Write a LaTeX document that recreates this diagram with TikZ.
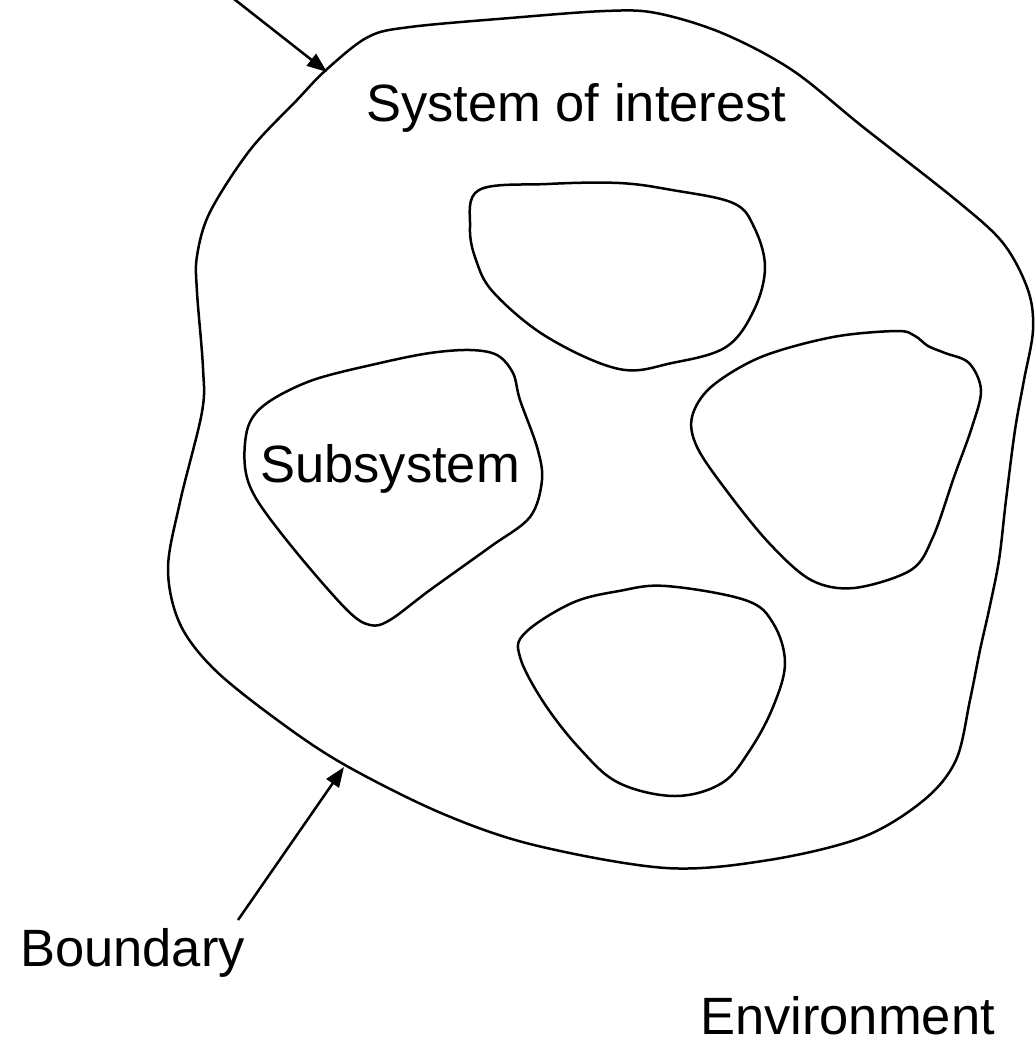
\documentclass[tikz,border=0pt]{standalone}
\usepackage{fontspec}
\setmainfont{Liberation Sans}
\usetikzlibrary{arrows.meta}
\begin{document}
\begin{tikzpicture}[x=1pt,y=-1pt,
  outline/.style={line width=2.5pt, line join=round},
  pointer/.style={line width=2.5pt, -{Triangle[length=20pt,width=15pt]}},
  caption/.style={inner sep=0pt, anchor=base west, font=\fontsize{52.5}{60}\selectfont}]
\useasboundingbox[fill=white] (0,0) rectangle (1035,1045);

% system boundary
\draw[outline] plot[smooth cycle, tension=0.55] coordinates {
  (326,70) (368,37) (410,27) (510,18) (605,11) (656,13) (722,33) (792,70)
  (863,127) (956,200) (1003,243) (1028,290) (1033,330) (1024,380) (1015,430)
  (1006,500) (999,560) (989,610) (980,650) (970,700) (956,760) (924,800)
  (863,837) (769,860) (666,868) (534,845) (441,813) (345,765) (280,722)
  (215,670) (180,624) (168,569) (180,502) (202,412) (203,368) (197,292)
  (197,256) (210,212) (250,150) (297,100)};

% upper subsystem
\draw[outline] plot[smooth cycle, tension=0.6] coordinates {
  (547,184) (619,183) (672,190) (733,203) (754,227) (765,267) (754,310)
  (726,347) (672,363) (619,369) (547,337) (494,293) (476,260) (470,227)
  (479,190)};

% right subsystem
\draw[outline] plot[smooth cycle, tension=0.55] coordinates {
  (833,337) (897,331) (915,336) (928,346) (945,353) (969,363) (981,390)
  (972,427) (954,477) (933,537) (911,570) (854,588) (811,580) (769,543)
  (726,490) (697,447) (692,417) (711,387) (761,357)};

% lower subsystem
\draw[outline] plot[smooth cycle, tension=0.6] coordinates {
  (666,586) (745,600) (773,623) (785,663) (773,707) (750,750) (722,783)
  (675,796) (619,783) (581,750) (544,703) (520,657) (525,633) (572,603)
  (619,591)};

% labelled subsystem
\draw[outline] plot[smooth cycle, tension=0.55] coordinates {
  (470,350) (497,355) (513,373) (520,400) (537,447) (542,480) (530,517)
  (490,547) (430,590) (390,620) (370,625) (347,610) (297,553) (257,500)
  (245,467) (248,427) (267,403) (313,380) (380,363) (430,353)};

% labels
\node[caption] (soi) at (366,121) {System of interest};
\node[caption] (sub) at (260,482) {Subsystem};
\node[caption] (bnd) at (20,966) {Boundary};
\node[caption] (env) at (700,1034) {Environment};

% pointers to the boundary
\coordinate (topfrom) at (234,-1);
\coordinate (topto) at (327,72);
\coordinate (lowfrom) at (238,920);
\coordinate (lowto) at (344,767);
\draw[pointer] (topfrom) -- (topto);
\draw[pointer] (lowfrom) -- (lowto);
\end{tikzpicture}
\end{document}
